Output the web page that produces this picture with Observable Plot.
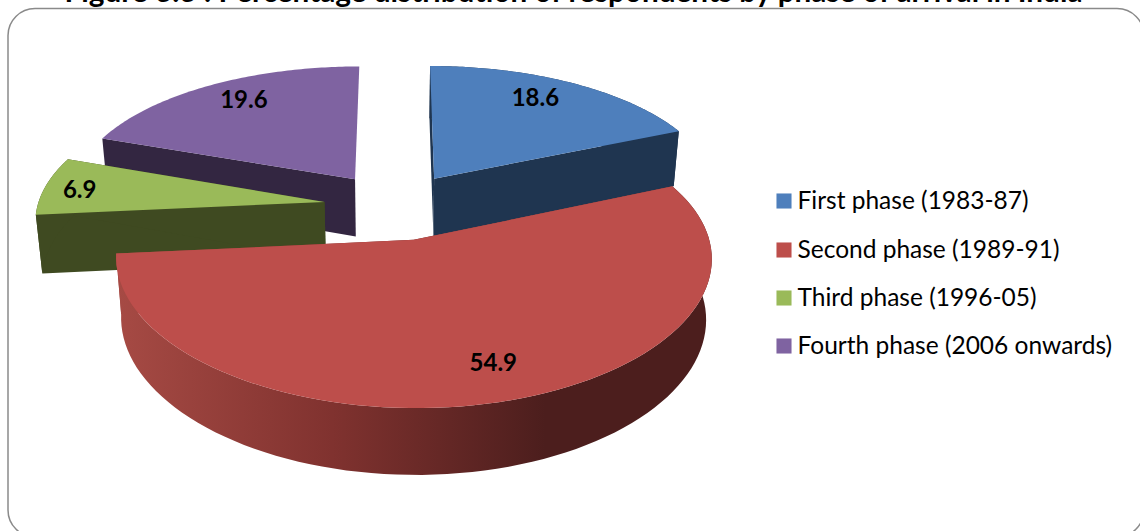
<!DOCTYPE html>
<html>
<head>
<meta charset="utf-8">
<script src="https://cdn.jsdelivr.net/npm/d3@7"></script>
<script src="https://cdn.jsdelivr.net/npm/@observablehq/plot@0.6"></script>
<style>html,body{margin:0;padding:0;background:#fff;overflow:hidden}svg{display:block;overflow:hidden}</style>
</head>
<body>
<div id="chart"></div>
<script>
const titleText = "Figure 3.3 : Percentage distribution of respondents by phase of arrival in India";
const phases = ["First phase (1983-87)", "Second phase (1989-91)", "Third phase (1996-05)", "Fourth phase (2006 onwards)"];
const shares = [18.6, 54.9, 6.9, 19.6];

const topColors = ["#4e7fbc", "#bd4e4b", "#9aba59", "#7f63a1"];
const sideColors = ["#1f3550", "url(#redSide)", "#3f4a21", "#332641"];
const legendRows = [200.5, 249.5, 297.5, 345.5];
const labelRadius = [0.85, 0.75, 0.85, 0.85];
const labelDx = [-17, 18, -7.5, 13];
const labelDy = [2.5, 6.5, 2.5, 2];

// Perspective view of an exploded pie: (u, v) is on the pie's plane in radius units
const view = {x0: 395, y0: 205.5, rx: 287, ry: 135, kx: 0.12, ky: 0.137, explode: 0.25, lift: 58.5, kh: 0.1, shrink: 0.982};
const rad = (d) => d * Math.PI / 180;
const total = d3.sum(shares);
const ends = d3.cumsum(shares).map((c) => c / total * 360);
const wedges = shares.map((v, i) => {
  const a0 = i ? ends[i - 1] : 0, a1 = ends[i], mid = (a0 + a1) / 2;
  return {i, a0, a1, mid, ou: view.explode * Math.sin(rad(mid)), ov: view.explode * Math.cos(rad(mid))};
});
function project(w, deg, r, bottom) {
  const u = w.ou + r * Math.sin(rad(deg)), v = w.ov + r * Math.cos(rad(deg));
  let x = view.x0 + u * view.rx / (1 + view.kx * v);
  let y = view.y0 - v * view.ry / (1 + view.ky * v);
  if (bottom) {
    x = view.x0 + (x - view.x0) * view.shrink;
    y += view.lift / (1 + view.kh * v);
  }
  return {x, y};
}
const arc = (w, bottom, from = w.a0, to = w.a1) =>
  d3.range(0, 1.0001, 1 / 90).map((t) => project(w, from + (to - from) * t, 1, bottom));

const area = (pts, fill) => Plot.line(pts, {x: "x", y: "y", fill, stroke: "none", curve: "linear-closed"});
const order = [3, 0, 2, 1];
const sliceMarks = order.flatMap((i) => {
  const w = wedges[i];
  const c = project(w, 0, 0, false), cb = project(w, 0, 0, true);
  const side = sideColors[i];
  const faces = [area([c, project(w, w.a0, 1, false), project(w, w.a0, 1, true), cb], side)];
  if (i !== 3) {
    faces.push(area([...arc(w, false), ...arc(w, true).reverse()], side));
    faces.push(area([c, project(w, w.a1, 1, false), project(w, w.a1, 1, true), cb], side));
  }
  return [...faces, area([c, ...arc(w, false)], topColors[i])];
});

const labels = wedges.map((w) => {
  const p = project(w, w.mid, labelRadius[w.i], false);
  return {text: shares[w.i].toFixed(1), x: p.x + labelDx[w.i], y: p.y + labelDy[w.i]};
});
const legend = phases.map((name, i) => ({name, row: legendRows[i], color: topColors[i]}));

const defs = () => {
  const d = d3.create("svg:defs");
  const g = d.append("linearGradient").attr("id", "redSide").attr("gradientUnits", "userSpaceOnUse")
    .attr("x1", 118).attr("x2", 545).attr("y1", 0).attr("y2", 0);
  g.append("stop").attr("offset", 0).attr("stop-color", "#a64a44");
  g.append("stop").attr("offset", 0.5).attr("stop-color", "#80322f");
  g.append("stop").attr("offset", 1).attr("stop-color", "#4c1e1d");
  return d.node();
};

const font = "Lato, Carlito, sans-serif";
const chart = Plot.plot({
  width: 1140,
  height: 531,
  margin: 0,
  style: {background: "#fff", fontFamily: font},
  x: {type: "linear", domain: [0, 1140], range: [0, 1140], axis: null},
  y: {type: "linear", domain: [0, 531], range: [0, 531], axis: null},
  marks: [
    defs,
    Plot.rect([{x1: 8, x2: 1144, y1: 8.5, y2: 537}], {x1: "x1", x2: "x2", y1: "y1", y2: "y2", fill: "#fff", stroke: "#8a8a8a", strokeWidth: 1.5, rx: 27}),
    Plot.text([titleText], {x: 573, y: 1, text: (d) => d, fontSize: 29.7, fontWeight: 700, fill: "#000", lineAnchor: "bottom", textAnchor: "middle", fontFamily: font}),
    ...sliceMarks,
    Plot.text(labels, {x: "x", y: "y", text: "text", fontSize: 24, fontWeight: 700, fill: "#000", fontFamily: font}),
    Plot.dot(legend, {x: 783.5, y: "row", symbol: "square", r: 8.5, fill: "color", stroke: "none"}),
    Plot.text(legend, {x: 797, y: "row", text: "name", textAnchor: "start", fontSize: 24.5, fill: "#000", fontFamily: font})
  ]
});
document.getElementById("chart").appendChild(chart);
</script>
</body>
</html>
